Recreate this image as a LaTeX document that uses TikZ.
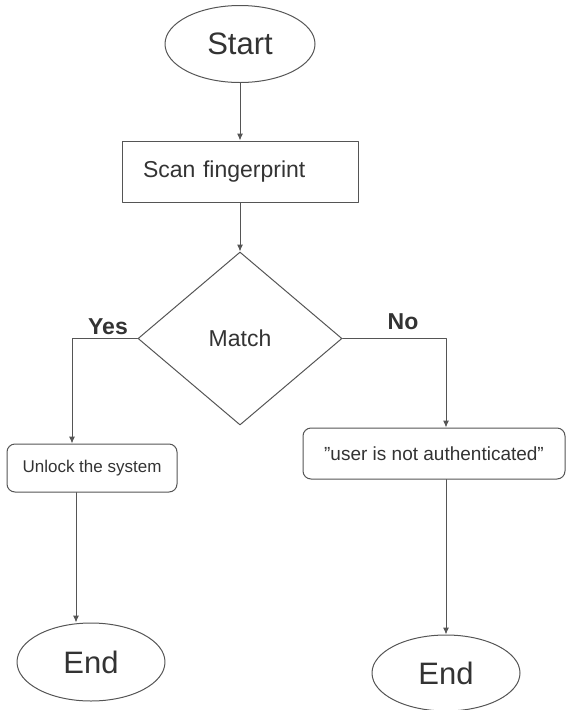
\documentclass[tikz,border=0pt]{standalone}
\usepackage{fontspec}
\setmainfont{Liberation Sans}
\usetikzlibrary{shapes.geometric,arrows.meta}
\definecolor{linegray}{HTML}{555555}
\definecolor{textgray}{HTML}{333333}
\begin{document}
\begin{tikzpicture}[x=1pt,y=-1pt,line cap=round,line join=round,
    every node/.style={text=textgray},
    terminal/.style={ellipse,draw=linegray,line width=1pt,inner sep=0pt,font=\fontsize{31}{36}\selectfont},
    process/.style={rectangle,draw=linegray,line width=1pt,inner sep=0pt},
    decision/.style={diamond,draw=linegray,line width=1pt,inner sep=0pt,font=\fontsize{23}{27}\selectfont},
    flow/.style={draw=linegray,line width=1pt,-{Latex[length=7pt,width=6pt]}},
    branch/.style={font=\bfseries\fontsize{23}{27}\selectfont}]
  \useasboundingbox (0,0) rectangle (566,710);
  \node[terminal,minimum width=150pt,minimum height=77pt] (start) at (240,44) {Start};
  \node[process,minimum height=61pt,text width=194pt,inner xsep=21pt,align=left,
        font=\fontsize{23}{27}\selectfont] (scan) at (240,171.5) {Scan fingerprint};
  \node[decision,minimum width=204pt,minimum height=173pt] (match) at (240,338.5) {Match};
  \node[process,rounded corners=8pt,minimum width=170pt,minimum height=48pt,
        font=\fontsize{17}{20}\selectfont] (unlock) at (92,468) {Unlock the system};
  \node[process,rounded corners=8pt,minimum width=262pt,minimum height=51pt,
        font=\fontsize{19}{23}\selectfont] (denied) at (434,453.5) {\symbol{34}user is not authenticated\symbol{34}};
  \node[terminal,minimum width=148pt,minimum height=78pt] (endyes) at (91,662) {End};
  \node[terminal,minimum width=148pt,minimum height=76pt] (endno) at (446,673) {End};
  \coordinate (yesturn) at (72,338.5);
  \coordinate (noturn) at (446,338.5);
  \node[branch] (yes) at (108,327) {Yes};
  \node[branch] (no) at (403,322) {No};
  \draw[flow] (start) -- (scan);
  \draw[flow] (scan) -- (match);
  \draw[flow] (match.west) -- (yesturn) -- (yesturn |- unlock.north);
  \draw[flow] (match.east) -- (noturn) -- (noturn |- denied.north);
  \draw[flow] ([xshift=-16pt]unlock.south) -- ([xshift=-15pt]endyes.north);
  \draw[flow] (denied.south -| endno.north) -- (endno.north);
\end{tikzpicture}
\end{document}
